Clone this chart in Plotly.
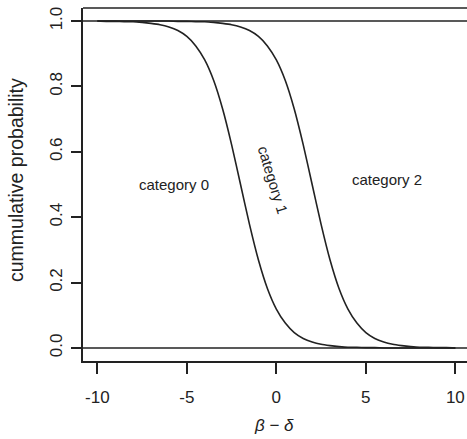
import plotly.graph_objects as go

# x grid (beta - delta) and cumulative probability curves
x_vals = [-10, -9.5, -9, -8.5, -8, -7.5, -7, -6.5, -6, -5.5, -5, -4.5, -4, -3.5, -3, -2.5, -2,
          -1.5, -1, -0.5, 0, 0.5, 1, 1.5, 2, 2.5, 3, 3.5, 4, 4.5, 5, 5.5, 6, 6.5, 7, 7.5, 8,
          8.5, 9, 9.5, 10]
curve_01 = [1.000, 0.999, 0.999, 0.998, 0.998, 0.996, 0.993, 0.989, 0.982, 0.971, 0.953, 0.924,
            0.881, 0.818, 0.731, 0.622, 0.500, 0.378, 0.269, 0.182, 0.119, 0.076, 0.047, 0.029,
            0.018, 0.011, 0.007, 0.004, 0.002, 0.002, 0.001, 0.001, 0.000, 0.000, 0.000, 0.000,
            0.000, 0.000, 0.000, 0.000, 0.000]
curve_12 = [1.000, 1.000, 1.000, 1.000, 1.000, 1.000, 1.000, 1.000, 1.000, 0.999, 0.999, 0.998,
            0.998, 0.996, 0.993, 0.989, 0.982, 0.971, 0.953, 0.924, 0.881, 0.818, 0.731, 0.622,
            0.500, 0.378, 0.269, 0.182, 0.119, 0.076, 0.047, 0.029, 0.018, 0.011, 0.007, 0.004,
            0.002, 0.002, 0.001, 0.001, 0.000]
x_ticks = [-10, -5, 0, 5, 10]
x_tick_labels = ["-10", "-5", "0", "5", "10"]
y_ticks = [0.0, 0.2, 0.4, 0.6, 0.8, 1.0]
y_tick_labels = ["0.0", "0.2", "0.4", "0.6", "0.8", "1.0"]
label_texts = ["category 0", "category 1", "category 2"]
label_x = [-5.7, -0.2, 6.2]
label_y = [0.50, 0.515, 0.515]
label_angle = [0, 73, 0]
x_title = "<i>β</i> − <i>δ</i>"
y_title = "cummulative probability"

INK = "#222222"
FONT = "Liberation Sans, Arial, sans-serif"
W, H = 467, 439
ML, MR, MT, MB = 83, 0, 8, 78
PW, PH = W - ML - MR, H - MT - MB

fig = go.Figure()
for ys in (curve_01, curve_12):
    fig.add_trace(go.Scatter(x=x_vals, y=ys, mode="lines",
                             line=dict(color=INK, width=1.6, shape="spline", smoothing=0.6),
                             hoverinfo="skip", showlegend=False))

for level in (0.0, 1.0):
    fig.add_shape(type="line", xref="paper", yref="y", x0=0, x1=1, y0=level, y1=level,
                  line=dict(color=INK, width=1.5))
# top frame line (right side of frame lies outside the picture)
fig.add_shape(type="line", xref="paper", yref="paper", x0=0, x1=1, y0=1, y1=1,
              line=dict(color=INK, width=1.5))

for t, xx, yy, a in zip(label_texts, label_x, label_y, label_angle):
    fig.add_annotation(x=xx, y=yy, text=t, showarrow=False, textangle=a,
                       font=dict(family=FONT, size=15, color=INK))

# axis titles placed as annotations
fig.add_annotation(xref="paper", yref="paper", x=(16 - ML) / PW, y=(MT + PH - 180) / PH,
                   text=y_title, textangle=-90, showarrow=False, xanchor="center",
                   yanchor="middle", font=dict(family=FONT, size=19.5, color=INK))
fig.add_annotation(xref="paper", yref="paper", x=(274 - ML) / PW, y=-(425 - MT - PH) / PH,
                   text=x_title, showarrow=False, xanchor="center", yanchor="middle",
                   font=dict(family=FONT, size=17, color=INK))

fig.update_layout(
    width=W, height=H,
    margin=dict(l=ML, r=MR, t=MT, b=MB),
    paper_bgcolor="white", plot_bgcolor="white",
    font=dict(family=FONT, color=INK),
    xaxis=dict(range=[-10.8, 10.65], tickvals=x_ticks, ticktext=x_tick_labels, ticks="outside",
               ticklen=11, automargin=False,
               tickwidth=1.5, tickcolor=INK, showline=True, linecolor=INK, linewidth=1.5,
               showgrid=False, zeroline=False, tickfont=dict(size=17, family=FONT, color=INK),
               ticklabelstandoff=9),
    yaxis=dict(range=[-0.04, 1.04], tickvals=y_ticks, ticktext=y_tick_labels, ticks="outside",
               ticklen=10, tickwidth=1.5, tickcolor=INK, showline=True, linecolor=INK,
               linewidth=1.5, showgrid=False, zeroline=False, tickangle=-90, automargin=False,
               tickfont=dict(size=17, family=FONT, color=INK), ticklabelstandoff=2),
)

fig.write_html("out.html", config={"displayModeBar": False},
               post_script="document.body.style.margin='0';document.body.style.overflow='hidden';")
